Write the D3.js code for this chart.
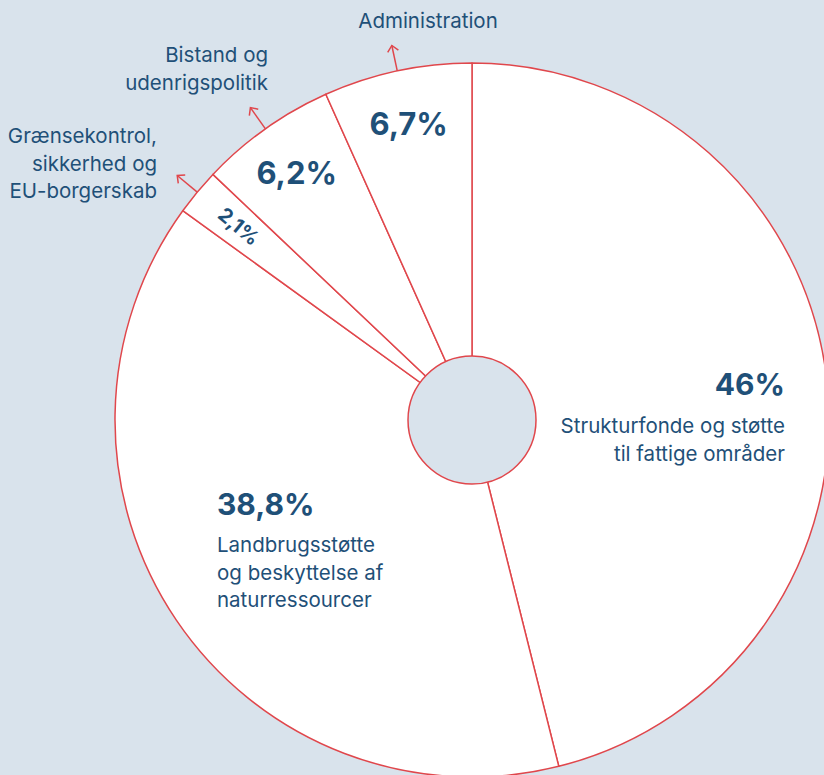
<!DOCTYPE html>
<html>
<head>
<meta charset="utf-8">
<script src="https://cdn.jsdelivr.net/npm/d3@7/dist/d3.min.js"></script>
<style>
  html, body { margin: 0; padding: 0; background: #d9e3ec; }
  svg { display: block; }
  text { font-family: Inter, "Open Sans", sans-serif; fill: #1f5078; }
</style>
</head>
<body>
<svg id="chart" width="824" height="775"></svg>
<script>
// Data
const categories = [
  "Strukturfonde og støtte til fattige områder",
  "Landbrugsstøtte og beskyttelse af naturressourcer",
  "Grænsekontrol, sikkerhed og EU-borgerskab",
  "Bistand og udenrigspolitik",
  "Administration"
];
const values = [46, 38.8, 2.1, 6.2, 6.7];
const percentLabels = ["46%", "38,8%", "2,1%", "6,2%", "6,7%"];
const nameLines = [
  ["Strukturfonde og støtte", "til fattige områder"],
  ["Landbrugsstøtte", "og beskyttelse af", "naturressourcer"],
  ["Grænsekontrol,", "sikkerhed og", "EU-borgerskab"],
  ["Bistand og", "udenrigspolitik"],
  ["Administration"]
];

const W = 824, H = 775;
const cx = 472, cy = 420;
const outerR = 357, innerR = 64;
const red = "#e0474c";
const bg = "#d9e3ec";

const svg = d3.select("#chart");
const g = svg.append("g").attr("transform", `translate(${cx},${cy})`);

const pie = d3.pie().sort(null).value(d => d);
const arcs = pie(values);
const arc = d3.arc().innerRadius(0).outerRadius(outerR);

g.selectAll("path.slice")
  .data(arcs)
  .enter().append("path")
  .attr("class", "slice")
  .attr("d", arc)
  .attr("fill", "#ffffff")
  .attr("stroke", red)
  .attr("stroke-width", 1.5)
  .attr("stroke-linejoin", "round");

g.append("circle")
  .attr("r", innerR)
  .attr("fill", bg)
  .attr("stroke", red)
  .attr("stroke-width", 1.5);

const mid = a => (a.startAngle + a.endAngle) / 2;
const pt = (ang, r) => [r * Math.sin(ang), -r * Math.cos(ang)];

const smallIdx = [2, 3, 4];
const labelR = 303;
const pctSizes = {2: 20, 3: 31, 4: 31};

smallIdx.forEach(i => {
  const a = arcs[i];
  const m = mid(a);
  const [x, y] = pt(m, labelR);
  const t = g.append("text")
    .attr("x", x).attr("y", y)
    .attr("text-anchor", "middle")
    .attr("dominant-baseline", "central")
    .style("font-weight", 700)
    .style("font-size", pctSizes[i] + "px")
    .text(percentLabels[i]);
  if (i === 2) {
    const deg = m * 180 / Math.PI - 270;
    t.attr("transform", `rotate(${deg},${x},${y})`);
  }
  const [x1, y1] = pt(m, outerR);
  const [x2, y2] = pt(m, outerR + 26);
  g.append("line")
    .attr("x1", x1).attr("y1", y1).attr("x2", x2).attr("y2", y2)
    .attr("stroke", red).attr("stroke-width", 1.5);
  const head = 8, spread = 0.75;
  const dir = Math.atan2(y2 - y1, x2 - x1);
  const hx1 = x2 - head * Math.cos(dir - spread), hy1 = y2 - head * Math.sin(dir - spread);
  const hx2 = x2 - head * Math.cos(dir + spread), hy2 = y2 - head * Math.sin(dir + spread);
  g.append("path")
    .attr("d", `M${hx1},${hy1}L${x2},${y2}L${hx2},${hy2}`)
    .attr("fill", "none").attr("stroke", red).attr("stroke-width", 1.5);
});

const nameFont = 20.5, lineH = 27.5;
function block(lines, x, y, anchor) {
  const t = svg.append("text")
    .attr("text-anchor", anchor)
    .style("font-size", nameFont + "px");
  lines.forEach((l, k) => {
    t.append("tspan").attr("x", x).attr("y", y + k * lineH).text(l);
  });
}
block(nameLines[4], 428, 28, "middle");
block(nameLines[3], 268, 62, "end");
block(nameLines[2], 157, 143, "end");

svg.append("text").attr("x", 785).attr("y", 395).attr("text-anchor", "end")
  .style("font-weight", 700).style("font-size", "30px").text(percentLabels[0]);
block(nameLines[0], 785, 433, "end");

svg.append("text").attr("x", 217).attr("y", 515).attr("text-anchor", "start")
  .style("font-weight", 700).style("font-size", "30px").text(percentLabels[1]);
block(nameLines[1], 217, 552, "start");
</script>
</body>
</html>
